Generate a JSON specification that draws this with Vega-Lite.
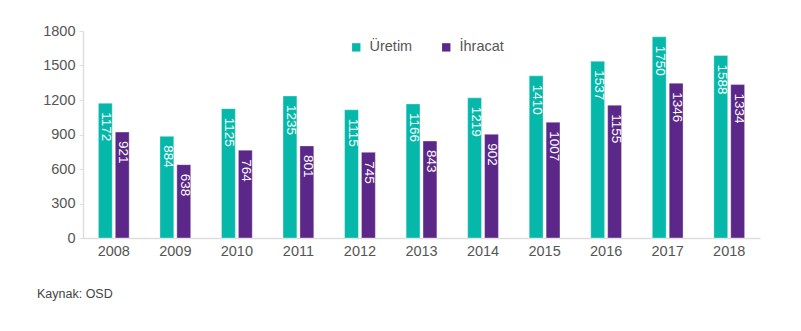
{
  "$schema": "https://vega.github.io/schema/vega-lite/v6.json",
  "width": 677,
  "height": 207,
  "autosize": {"type": "none"},
  "padding": {"left": 83, "top": 31, "right": 41, "bottom": 93},
  "background": "white",
  "config": {
    "view": {"stroke": null},
    "font": "Liberation Sans"
  },
  "title": {
    "text": "Kaynak: OSD",
    "orient": "bottom",
    "anchor": "start",
    "frame": "group",
    "dx": -46,
    "offset": 30,
    "fontSize": 12.5,
    "fontWeight": "normal",
    "color": "#444"
  },
  "data": {
    "values": [
      {"year": "2008", "series": "Üretim", "value": 1172},
      {"year": "2008", "series": "İhracat", "value": 921},
      {"year": "2009", "series": "Üretim", "value": 884},
      {"year": "2009", "series": "İhracat", "value": 638},
      {"year": "2010", "series": "Üretim", "value": 1125},
      {"year": "2010", "series": "İhracat", "value": 764},
      {"year": "2011", "series": "Üretim", "value": 1235},
      {"year": "2011", "series": "İhracat", "value": 801},
      {"year": "2012", "series": "Üretim", "value": 1115},
      {"year": "2012", "series": "İhracat", "value": 745},
      {"year": "2013", "series": "Üretim", "value": 1166},
      {"year": "2013", "series": "İhracat", "value": 843},
      {"year": "2014", "series": "Üretim", "value": 1219},
      {"year": "2014", "series": "İhracat", "value": 902},
      {"year": "2015", "series": "Üretim", "value": 1410},
      {"year": "2015", "series": "İhracat", "value": 1007},
      {"year": "2016", "series": "Üretim", "value": 1537},
      {"year": "2016", "series": "İhracat", "value": 1155},
      {"year": "2017", "series": "Üretim", "value": 1750},
      {"year": "2017", "series": "İhracat", "value": 1346},
      {"year": "2018", "series": "Üretim", "value": 1588},
      {"year": "2018", "series": "İhracat", "value": 1334}
    ]
  },
  "encoding": {
    "x": {
      "field": "year",
      "type": "nominal",
      "scale": {"paddingInner": 0.5, "paddingOuter": 0.25},
      "axis": {
        "title": null,
        "labelAngle": 0,
        "labelFontSize": 14.5,
        "labelColor": "#555",
        "labelPadding": 6,
        "ticks": false,
        "domainColor": "#ddd",
        "domainWidth": 1.5
      }
    },
    "xOffset": {
      "field": "series",
      "type": "nominal",
      "sort": ["Üretim", "İhracat"],
      "scale": {"paddingInner": 0.18, "paddingOuter": 0}
    },
    "y": {
      "field": "value",
      "type": "quantitative",
      "scale": {"domain": [0, 1800], "nice": false},
      "axis": {
        "title": null,
        "format": "d",
        "values": [0, 300, 600, 900, 1200, 1500, 1800],
        "grid": false,
        "labelFontSize": 14.5,
        "labelColor": "#555",
        "tickColor": "#ddd",
        "tickSize": 4,
        "labelPadding": 4,
        "domainColor": "#ddd",
        "domainWidth": 1.5
      }
    }
  },
  "layer": [
    {
      "mark": {"type": "bar", "stroke": "#ffffff", "strokeOpacity": 0.35, "strokeWidth": 1},
      "encoding": {
        "color": {
          "field": "series",
          "type": "nominal",
          "scale": {"domain": ["Üretim", "İhracat"], "range": ["#06b8a9", "#5b2788"]},
          "legend": {
            "title": null,
            "orient": "none",
            "legendX": 266,
            "legendY": 9,
            "direction": "horizontal",
            "symbolType": "square",
            "symbolSize": 70,
            "symbolStrokeWidth": 0,
            "labelFontSize": 14.5,
            "labelColor": "#555",
            "columnPadding": 26,
            "labelOffset": 6
          }
        }
      }
    },
    {
      "mark": {
        "type": "text",
        "angle": 90,
        "align": "left",
        "baseline": "middle",
        "dx": 9,
        "dy": -1,
        "fontSize": 13.5,
        "color": "white"
      },
      "encoding": {
        "text": {"field": "value", "type": "quantitative", "format": "d"}
      }
    }
  ]
}
